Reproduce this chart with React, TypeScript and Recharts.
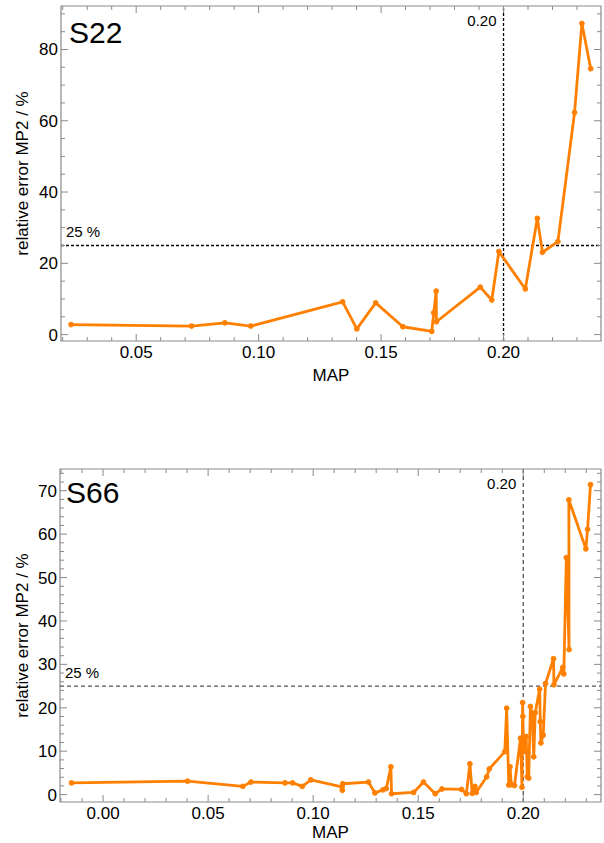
import React from "react";
import { LineChart, Line, XAxis, YAxis, ReferenceLine, ReferenceArea } from "recharts";

const ORANGE = "#ff8000";
const FRAME = "#8a8a8a";
const FONT = "'Liberation Sans', Arial, Helvetica, sans-serif";

// S22: MAP vs relative error of MP2 (%)
const s22Map = [0.0234, 0.0726, 0.0862, 0.0968, 0.1343, 0.1401, 0.1478, 0.1589, 0.1707, 0.1715, 0.1725, 0.1726, 0.1905, 0.1952, 0.1981, 0.2089, 0.2138, 0.2159, 0.2222, 0.229, 0.232, 0.2356];
const s22Err = [2.8, 2.4, 3.3, 2.4, 9.2, 1.6, 8.9, 2.2, 0.9, 6.1, 12.2, 3.6, 13.3, 9.7, 23.3, 12.8, 32.6, 23.1, 26.1, 62.3, 87.3, 74.6];
const s22XTicks = [0.05, 0.1, 0.15, 0.2];
const s22YTicks = [0, 20, 40, 60, 80];

// S66
const s66Map = [
  -0.015, 0.0402, 0.0665, 0.0704, 0.0866, 0.0902, 0.0948, 0.0989, 0.1137, 0.1139,
  0.1141, 0.1263, 0.1294, 0.1332, 0.1348, 0.137, 0.1373, 0.1478, 0.1525, 0.1581,
  0.1613, 0.1706, 0.1729, 0.1746, 0.1757, 0.177, 0.1776, 0.1826, 0.1838, 0.1912,
  0.1921, 0.1931, 0.1937, 0.1943, 0.1958, 0.1987, 0.1994, 0.1997, 0.1998, 0.2002,
  0.2014, 0.2019, 0.2026, 0.2034, 0.2042, 0.205, 0.2057, 0.2078, 0.2081, 0.2084,
  0.2095, 0.2106, 0.2144, 0.2146, 0.2188, 0.2193, 0.2205, 0.2218, 0.2217, 0.2298,
  0.2306, 0.232,
];
const s66Err = [
  2.7, 3.1, 1.9, 2.9, 2.7, 2.7, 1.9, 3.4, 1.8, 1.0,
  2.5, 2.9, 0.4, 1.1, 1.4, 6.4, 0.2, 0.5, 2.9, 0.2,
  1.3, 1.2, 0.2, 7.1, 0.3, 1.9, 0.5, 4.1, 5.9, 9.9,
  19.9, 2.2, 6.4, 2.3, 2.1, 13.0, 1.7, 21.2, 18.0, 9.9,
  13.4, 4.1, 3.8, 20.3, 18.7, 8.7, 18.9, 24.3, 16.8, 11.9,
  13.7, 25.6, 31.3, 25.3, 29.3, 27.8, 54.6, 33.4, 67.9, 56.6,
  61.1, 71.4,
];
const s66XTicks = [0, 0.05, 0.1, 0.15, 0.2];
const s66YTicks = [0, 10, 20, 30, 40, 50, 60, 70];

const CUT_MAP = 0.2;
const CUT_ERR = 25;

function stepTicks(domain: [number, number], step: number) {
  const out: number[] = [];
  const a = Math.ceil(domain[0] / step - 1e-9);
  const b = Math.floor(domain[1] / step + 1e-9);
  for (let i = a; i <= b; i++) out.push(+(i * step).toFixed(4));
  return out;
}

const isMajor = (majors: number[], v: number) => majors.some((t) => Math.abs(t - v) < 1e-7);

type PanelProps = {
  title: string;
  map: number[];
  err: number[];
  xDomain: [number, number];
  yDomain: [number, number];
  xTicks: number[];
  xMinor: number;
  yTicks: number[];
  yMinor: number;
  top: number;
  height: number;
  plotTop: number;
  xAxisHeight: number;
  yAxisWidth: number;
  refColor: string;
  refDash: string;
  titleX: number;
  titleY: number;
  mapY: number;
};

function Panel(p: PanelProps) {
  const W = 604;
  const rightMargin = 3;
  const plotRight = W - rightMargin;
  const plotBottom = p.height - p.xAxisHeight;
  const rows = p.map.map((m, i) => ({ map: m, err: p.err[i] }));

  const xTick = (props: any) => {
    const { x, y, payload } = props;
    const major = isMajor(p.xTicks, payload.value);
    const len = major ? 7 : 4;
    return (
      <g>
        <line x1={x} x2={x} y1={y} y2={y - len} stroke={FRAME} />
        <line x1={x} x2={x} y1={p.plotTop} y2={p.plotTop + len} stroke={FRAME} />
        {major && (
          <text x={x} y={y + 17} textAnchor="middle" fontSize={17} fill="#000">
            {Number(payload.value).toFixed(2)}
          </text>
        )}
      </g>
    );
  };

  const yTick = (props: any) => {
    const { x, y, payload } = props;
    const major = isMajor(p.yTicks, payload.value);
    const len = major ? 7 : 4;
    return (
      <g>
        <line x1={x} x2={x + len} y1={y} y2={y} stroke={FRAME} />
        <line x1={plotRight} x2={plotRight - len} y1={y} y2={y} stroke={FRAME} />
        {major && (
          <text x={x - 3} y={y + 6} textAnchor="end" fontSize={17} fill="#000">
            {payload.value}
          </text>
        )}
      </g>
    );
  };

  return (
    <div style={{ position: "absolute", left: 0, top: p.top, width: W, height: p.height }}>
      <LineChart
        width={W}
        height={p.height}
        data={rows}
        margin={{ top: p.plotTop, right: rightMargin, left: 0, bottom: 0 }}
      >
        <XAxis
          dataKey="map"
          type="number"
          domain={p.xDomain}
          allowDataOverflow
          ticks={stepTicks(p.xDomain, p.xMinor)}
          interval={0}
          tickSize={0}
          tickMargin={0}
          tickLine={false}
          axisLine={false}
          height={p.xAxisHeight}
          tick={xTick}
        />
        <YAxis
          type="number"
          domain={p.yDomain}
          allowDataOverflow
          ticks={stepTicks(p.yDomain, p.yMinor)}
          interval={0}
          tickSize={0}
          tickMargin={0}
          tickLine={false}
          axisLine={false}
          width={p.yAxisWidth}
          tick={yTick}
        />
        <ReferenceArea
          x1={p.xDomain[0]}
          x2={p.xDomain[1]}
          y1={p.yDomain[0]}
          y2={p.yDomain[1]}
          fill="none"
          stroke={FRAME}
          strokeWidth={1.2}
          ifOverflow="visible"
        />
        <ReferenceLine
          x={CUT_MAP}
          stroke={p.refColor}
          strokeWidth={1.3}
          strokeDasharray={p.refDash}
          label={{
            content: (lp: any) => (
              <text x={lp.viewBox.x - 7} y={lp.viewBox.y + 20} textAnchor="end" fontSize={15} fill="#000">
                0.20
              </text>
            ),
          }}
        />
        <ReferenceLine
          y={CUT_ERR}
          stroke={p.refColor}
          strokeWidth={1.3}
          strokeDasharray={p.refDash}
          label={{
            content: (lp: any) => (
              <text x={lp.viewBox.x + 5} y={lp.viewBox.y - 8} textAnchor="start" fontSize={15} fill="#000">
                25 %
              </text>
            ),
          }}
        />
        <Line
          dataKey="err"
          type="linear"
          stroke={ORANGE}
          strokeWidth={2.8}
          strokeLinejoin="round"
          dot={{ r: 2.4, fill: ORANGE, stroke: ORANGE, strokeWidth: 1 }}
          activeDot={false}
          isAnimationActive={false}
        />
      </LineChart>
      <svg
        width={W}
        height={p.height}
        style={{ position: "absolute", left: 0, top: 0, pointerEvents: "none" }}
      >
        <text x={p.titleX} y={p.titleY} fontSize={30} fill="#000">
          {p.title}
        </text>
        <text
          transform={`translate(28, ${(p.plotTop + plotBottom) / 2}) rotate(-90)`}
          textAnchor="middle"
          fontSize={17}
          fill="#000"
        >
          relative error MP2 / %
        </text>
        <text x={(p.yAxisWidth + plotRight) / 2} y={p.mapY} textAnchor="middle" fontSize={17} fill="#000">
          MAP
        </text>
      </svg>
    </div>
  );
}

export default function App() {
  return (
    <div style={{ position: "relative", width: 604, height: 843, fontFamily: FONT, background: "#fff" }}>
      <style>{"body{margin:0}"}</style>
      <Panel
        title="S22"
        map={s22Map}
        err={s22Err}
        xDomain={[0.0193, 0.2398]}
        yDomain={[-1.8, 92.2]}
        xTicks={s22XTicks}
        xMinor={0.01}
        yTicks={s22YTicks}
        yMinor={5}
        top={0}
        height={390}
        plotTop={6}
        xAxisHeight={49}
        yAxisWidth={61}
        refColor="#000"
        refDash="3 2"
        titleX={69}
        titleY={43}
        mapY={381}
      />
      <Panel
        title="S66"
        map={s66Map}
        err={s66Err}
        xDomain={[-0.0205, 0.237]}
        yDomain={[-1.7, 75]}
        xTicks={s66XTicks}
        xMinor={0.01}
        yTicks={s66YTicks}
        yMinor={2}
        top={440}
        height={403}
        plotTop={29}
        xAxisHeight={41}
        yAxisWidth={60}
        refColor="#555"
        refDash="4 3"
        titleX={66}
        titleY={63}
        mapY={398}
      />
    </div>
  );
}
